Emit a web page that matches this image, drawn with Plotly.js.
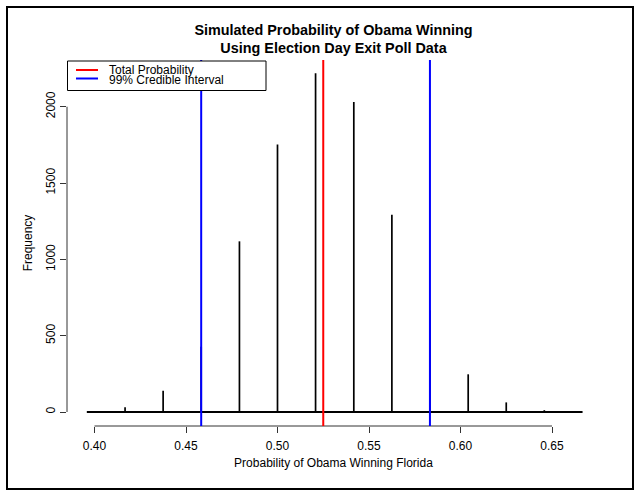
<!DOCTYPE html>
<html>
<head>
<meta charset="utf-8">
<script src="https://cdn.plot.ly/plotly-3.0.1.min.js"></script>
<style>html,body{margin:0;padding:0;background:#fff;}#chart{width:636px;height:492px;}</style>
</head>
<body>
<div id="chart"></div>
<script>
// ---- data ----
const probValues = [0.3958, 0.4167, 0.4375, 0.4583, 0.4792, 0.5000, 0.5208, 0.5417, 0.5625, 0.5833, 0.6042, 0.6250, 0.6458, 0.6667];
const frequency  = [0, 31, 140, 428, 1118, 1752, 2219, 2031, 1292, 667, 247, 63, 12, 0];
const totalProbability = [0.5250];
const credibleInterval = [0.4583, 0.5833];
const xTicks = [0.40, 0.45, 0.50, 0.55, 0.60, 0.65];
const xTickLabels = ['0.40', '0.45', '0.50', '0.55', '0.60', '0.65'];
const yTicks = [0, 500, 1000, 1500, 2000];
const yTickLabels = ['0', '500', '1000', '1500', '2000'];
const legendLabels = ['Total Probability', '99% Credible Interval'];
const legendColors = ['#FF0000', '#0000FF'];

// ---- layout geometry (pixels) ----
const W = 636, H = 492;
const M = {l: 67, r: 36, t: 60, b: 66};
const PW = W - M.l - M.r, PH = H - M.t - M.b;
const px = x => (x - M.l) / PW;         // pixel -> paper x
const py = y => (H - M.b - y) / PH;     // pixel -> paper y
const FONT = '"Liberation Sans", Arial, Helvetica, sans-serif';

const spikeX = [], spikeY = [];
probValues.forEach((v, i) => { spikeX.push(v, v, null); spikeY.push(0, frequency[i], null); });

const traces = [
  {x: [probValues[0], probValues[probValues.length - 1]], y: [0, 0], mode: 'lines',
   line: {color: '#000', width: 2}, hoverinfo: 'skip', showlegend: false},
  {x: spikeX, y: spikeY, mode: 'lines', line: {color: '#000', width: 1.7},
   hoverinfo: 'skip', showlegend: false}
];

const shapes = [];
// outer figure box
shapes.push({type: 'rect', xref: 'paper', yref: 'paper', x0: px(7), x1: px(633), y0: py(489), y1: py(7),
  line: {color: '#000', width: 2}, layer: 'below'});
// axis lines spanning tick range
shapes.push({type: 'line', xref: 'x', yref: 'paper', x0: xTicks[0], x1: xTicks[xTicks.length - 1], y0: 0, y1: 0,
  line: {color: '#333', width: 1}});
shapes.push({type: 'line', xref: 'paper', yref: 'y', x0: 0, x1: 0, y0: yTicks[0], y1: yTicks[yTicks.length - 1],
  line: {color: '#333', width: 1}});
// vertical reference lines
totalProbability.forEach(v => shapes.push({type: 'line', xref: 'x', yref: 'paper', x0: v, x1: v, y0: 0, y1: 1,
  line: {color: legendColors[0], width: 2}, layer: 'above'}));
credibleInterval.forEach(v => shapes.push({type: 'line', xref: 'x', yref: 'paper', x0: v, x1: v, y0: 0, y1: 1,
  line: {color: legendColors[1], width: 2}, layer: 'above'}));
// legend box
shapes.push({type: 'rect', xref: 'paper', yref: 'paper', x0: px(67.5), x1: px(266), y0: py(90.5), y1: py(61),
  fillcolor: '#fff', line: {color: '#000', width: 1}, layer: 'above'});
const legendRows = [70, 78.5];
legendRows.forEach((yy, i) => shapes.push({type: 'line', xref: 'paper', yref: 'paper', x0: px(76), x1: px(98),
  y0: py(yy), y1: py(yy), line: {color: legendColors[i], width: 2}, layer: 'above'}));

const textRows = [70.5, 80];
const annotations = legendLabels.map((t, i) => ({
  text: t, xref: 'paper', yref: 'paper', x: px(107), y: py(textRows[i]), xanchor: 'left', yanchor: 'middle',
  showarrow: false, font: {family: FONT, size: 12, color: '#000'}
}));

const layout = {
  width: W, height: H, margin: M, paper_bgcolor: '#fff', plot_bgcolor: '#fff',
  font: {family: FONT, size: 12, color: '#000'},
  showlegend: false,
  title: {text: 'Simulated Probability of Obama Winning<br>Using Election Day Exit Poll Data',
    font: {family: FONT, size: 14.4, color: '#000', weight: 'bold'},
    xref: 'paper', x: 0.5, xanchor: 'center', yref: 'container', y: 1 - 34.5 / H, yanchor: 'middle'},
  xaxis: {range: [0.38497, 0.67623], tickvals: xTicks, ticktext: xTickLabels, ticks: 'outside', ticklen: 6,
    tickcolor: '#333', tickwidth: 1, showgrid: false, zeroline: false, showline: false, automargin: false,
    ticklabelstandoff: 3,
    tickfont: {family: FONT, size: 12, color: '#000'},
    title: {text: 'Probability of Obama Winning Florida', font: {family: FONT, size: 12, color: '#000'}, standoff: 6}},
  yaxis: {range: [-91.7, 2306], tickvals: yTicks, ticktext: yTickLabels, ticks: 'outside', ticklen: 6,
    tickcolor: '#333', tickwidth: 1, tickangle: -90, showgrid: false, zeroline: false, showline: false, automargin: false,
    tickfont: {family: FONT, size: 12, color: '#000'},
    title: {text: 'Frequency', font: {family: FONT, size: 12, color: '#000'}, standoff: 9}},
  shapes: shapes, annotations: annotations
};

Plotly.newPlot('chart', traces, layout, {staticPlot: true, displayModeBar: false});
</script>
</body>
</html>
